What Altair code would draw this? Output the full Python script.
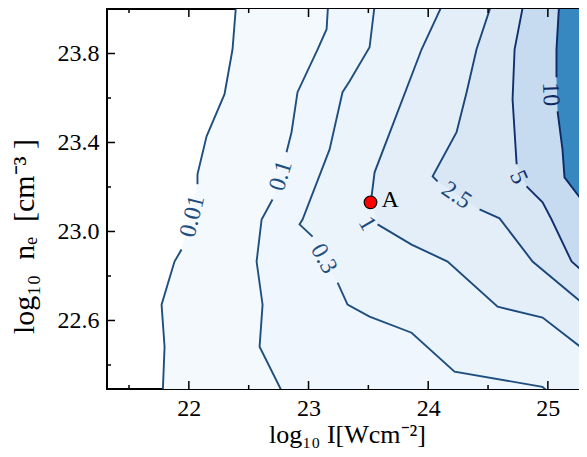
import altair as alt
import pandas as pd

# ---- axis ranges (data units) ----
X_MIN, X_MAX = 21.316, 25.327
Y_MIN, Y_MAX = 22.292, 24.0
X_EDGE = 25.45  # right-hand end of filled bands (clipped)

# ---- contour levels & styles ----
levels = ["0.01", "0.1", "0.3", "1", "2.5", "5", "10"]
fill_colors = ["#f4f9fe", "#f0f6fd", "#ebf3fb", "#e3eef9", "#d9e7f5", "#c6dbef", "#3787c0"]
line_colors = ["#1f4f7f", "#1f4f7f", "#1f4f7f", "#1d4a7c", "#1a467a", "#112f6c", "#0c2a66"]

# ---- contour lines (x = log10 I, y = log10 ne), seg splits at the label gap ----
c001_x = [22.399, 22.365, 22.298, 22.148, 22.072, 22.072, 21.939, 21.880, 21.772, 21.797, 21.780]
c001_y = [24.05, 23.819, 23.617, 23.428, 23.257, 23.212, 22.919, 22.865, 22.671, 22.482, 22.25]
c001_s = [0, 0, 0, 0, 0, 0, 1, 1, 1, 1, 1]

c01_x = [23.167, 23.151, 23.076, 22.908, 22.858, 22.816, 22.699, 22.608, 22.566, 22.616, 22.591, 22.806]
c01_y = [24.05, 23.909, 23.819, 23.626, 23.446, 23.356, 23.144, 23.054, 22.865, 22.671, 22.482, 22.25]
c01_s = [0, 0, 0, 0, 0, 0, 1, 1, 1, 1, 1, 1]

c03_x = [23.560, 23.510, 23.343, 23.284, 23.176, 22.950, 22.925, 23.034, 23.243, 23.326, 23.510, 23.861, 24.220, 24.955, 25.000]
c03_y = [24.05, 23.828, 23.675, 23.626, 23.369, 23.054, 23.032, 22.977, 22.770, 22.671, 22.617, 22.545, 22.370, 22.302, 22.280]
c03_s = [0, 0, 0, 0, 0, 0, 0, 0, 1, 1, 1, 1, 1, 1, 1]

c1_x = [24.145, 23.945, 23.552, 23.527, 23.577, 23.861, 24.162, 24.580, 24.956, 25.45]
c1_y = [24.05, 23.819, 23.266, 23.158, 23.032, 22.941, 22.865, 22.662, 22.613, 22.407]
c1_s = [0, 0, 0, 0, 1, 1, 1, 1, 1, 1]

c25_x = [24.546, 24.404, 24.321, 24.237, 24.037, 24.078, 24.429, 24.596, 24.872, 25.45]
c25_y = [24.05, 23.819, 23.626, 23.446, 23.248, 23.225, 23.099, 23.059, 22.865, 22.605]
c25_s = [0, 0, 0, 0, 0, 0, 1, 1, 1, 1]

c5_x = [24.805, 24.722, 24.705, 24.739, 24.822, 24.956, 25.031, 25.198, 25.45]
c5_y = [24.05, 23.819, 23.594, 23.302, 23.203, 23.131, 23.054, 22.865, 22.746]
c5_s = [0, 0, 0, 0, 1, 1, 1, 1, 1]

c10_x = [25.097, 25.072, 25.072, 25.081, 25.122, 25.139, 25.45]
c10_y = [24.05, 23.819, 23.693, 23.540, 23.369, 23.243, 23.023]
c10_s = [0, 0, 0, 1, 1, 1, 1]

contours = [
    (c001_x, c001_y, c001_s),
    (c01_x, c01_y, c01_s),
    (c03_x, c03_y, c03_s),
    (c1_x, c1_y, c1_s),
    (c25_x, c25_y, c25_s),
    (c5_x, c5_y, c5_s),
    (c10_x, c10_y, c10_s),
]

# ---- contour labels ----
lab_text = ["0.01", "0.1", "0.3", "1", "2.5", "5", "10"]
lab_x = [22.030, 22.770, 23.126, 23.490, 24.236, 24.754, 25.021]
lab_y = [23.068, 23.250, 22.878, 23.035, 23.162, 23.243, 23.617]
lab_angle = [284, 287, 61, 60, 34, 66, 88]

# ---- marked point ----
pt_x = [23.518]
pt_y = [23.131]
pt_label = ["A"]

# ---- ticks ----
x_major = [22, 23, 24, 25]
x_minor = [21.5, 22.5, 23.5, 24.5]
y_major = [22.6, 23.0, 23.4, 23.8]
y_minor = [22.4, 22.8, 23.2, 23.6]

W, H = 480, 380
SERIF = "Liberation Serif"

xs = alt.Scale(domain=[X_MIN, X_MAX], nice=False, zero=False)
ys = alt.Scale(domain=[Y_MIN, Y_MAX], nice=False, zero=False)

x_axis = alt.Axis(values=x_major, title="log₁₀ I[Wcm⁻²]",
                  titleY=53, titleBaseline="alphabetic", titleFontSize=26)
y_axis = alt.Axis(values=y_major, format=".1f",
                  title="log₁₀\u2002nₑ\u2002[cm⁻³ ]", titleFontSize=30,
                  titleX=-68, titleY=227, titleBaseline="bottom", titleAngle=270)


def X(field):
    return alt.X(field, scale=xs, axis=x_axis)


def Y(field):
    return alt.Y(field, scale=ys, axis=y_axis)


layers = []
# filled bands: from each contour line to the right-hand edge
for k, (cx, cy, cs) in enumerate(contours):
    df = pd.DataFrame({"x": cx, "y": cy, "xe": [X_EDGE] * len(cx)})
    layers.append(alt.Chart(df).mark_area(orient="horizontal", clip=True,
                                          color=fill_colors[k], opacity=1).encode(
        y=Y("y:Q"), x=X("x:Q"), x2="xe:Q"))
# contour lines
for k, (cx, cy, cs) in enumerate(contours):
    df = pd.DataFrame({"x": cx, "y": cy, "seg": cs, "i": list(range(len(cx)))})
    layers.append(alt.Chart(df).mark_line(clip=True, strokeWidth=1.9,
                                          color=line_colors[k]).encode(
        x=X("x:Q"), y=Y("y:Q"), detail="seg:N", order=alt.Order("i:Q")))

lab_df = pd.DataFrame({"t": lab_text, "x": lab_x, "y": lab_y, "a": lab_angle,
                       "c": line_colors})
labels = alt.Chart(lab_df).mark_text(font=SERIF, fontSize=24, baseline="middle",
                                     align="center").encode(
    x=X("x:Q"), y=Y("y:Q"), text="t:N",
    angle=alt.Angle("a:Q", scale=None),
    color=alt.Color("c:N", scale=None),
)

pt_df = pd.DataFrame({"x": pt_x, "y": pt_y, "t": pt_label})
point = alt.Chart(pt_df).mark_circle(size=160, color="red", stroke="black",
                                     strokeWidth=1.2, opacity=1).encode(
    x=X("x:Q"), y=Y("y:Q"))
point_lab = alt.Chart(pt_df).mark_text(font=SERIF, fontSize=24, align="left",
                                       dx=11, dy=-2, color="black").encode(
    x=X("x:Q"), y=Y("y:Q"), text="t:N")


# inward tick marks on all four sides
def xticks(vals, length):
    df = pd.DataFrame({"v": vals})
    base = alt.Chart(df)
    bot = base.mark_rule(color="black", strokeWidth=1.5).encode(
        x=X("v:Q"), y=alt.value(H), y2=alt.value(H - length))
    top = base.mark_rule(color="black", strokeWidth=1.5).encode(
        x=X("v:Q"), y=alt.value(0), y2=alt.value(length))
    return [bot, top]


def yticks(vals, length):
    df = pd.DataFrame({"v": vals})
    base = alt.Chart(df)
    left = base.mark_rule(color="black", strokeWidth=1.5).encode(
        y=Y("v:Q"), x=alt.value(0), x2=alt.value(length))
    right = base.mark_rule(color="black", strokeWidth=1.5).encode(
        y=Y("v:Q"), x=alt.value(W), x2=alt.value(W - length))
    return [left, right]


ticks = xticks(x_major, 8) + xticks(x_minor, 4) + yticks(y_major, 8) + yticks(y_minor, 4)

chart = alt.layer(*layers, labels, point, point_lab, *ticks).properties(
    width=W, height=H,
    autosize=alt.AutoSizeParams(type="none"),
    padding={"left": 99, "top": 1, "right": -8, "bottom": 60},
    background="white",
).configure_view(
    stroke="black", strokeWidth=2
).configure_axis(
    ticks=False, domain=False, grid=False,
    labelFont=SERIF, labelFontSize=24, labelColor="black",
    titleFont=SERIF, titleFontWeight="normal", titleColor="black",
).configure_axisX(
    labelPadding=7
).configure_axisY(
    labelPadding=8
)

chart.save("out.html", embed_options={"renderer": "svg", "actions": False})
